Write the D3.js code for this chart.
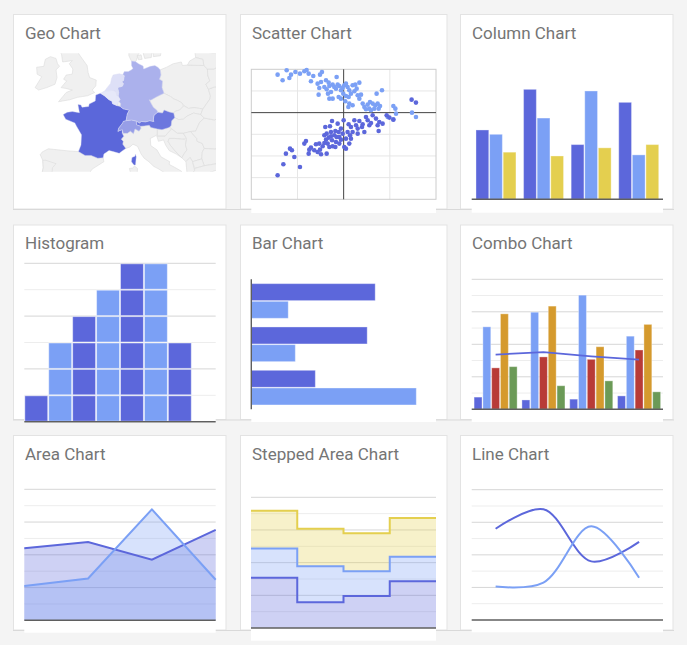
<!DOCTYPE html>
<html>
<head>
<meta charset="utf-8">
<script src="https://cdn.jsdelivr.net/npm/d3@7"></script>
<style>
  body { margin: 0; background: #f4f4f4; }
  svg { display: block; font-family: Roboto, "Noto Sans", sans-serif; }
</style>
</head>
<body>
<svg id="gallery" width="687" height="645"></svg>
<script>
// ---------- data ----------
const cardTitles = ["Geo Chart", "Scatter Chart", "Column Chart",
                    "Histogram", "Bar Chart", "Combo Chart",
                    "Area Chart", "Stepped Area Chart", "Line Chart"];

// geo chart: region values (0-100) and outlines as [lon, lat]
const regionNames = ["France", "Austria", "Switzerland", "Germany", "Netherlands", "Belgium"];
const regionValues = [100, 88, 58, 44, 8, 2];

const franceOutline = [[2.5,51.1],[3.3,50.8],[4.2,50.3],[4.8,50.1],[4.9,49.8],[5.8,49.55],[6.4,49.45],[7.0,49.15],[8.2,48.97],[7.8,48.5],[7.55,47.6],[7.0,47.5],[6.9,47.3],[6.1,46.6],[5.95,46.15],[6.15,46.25],[6.8,46.4],[6.8,45.9],[7.1,45.5],[6.6,45.1],[7.0,44.8],[6.9,44.4],[7.5,43.8],[7.0,43.55],[6.2,43.1],[5.0,43.35],[4.2,43.5],[3.2,43.0],[3.05,42.45],[2.0,42.4],[0.7,42.8],[-0.5,42.8],[-1.8,43.35],[-1.3,44.3],[-1.2,45.7],[-2.2,46.9],[-2.5,47.3],[-4.3,47.8],[-4.8,48.4],[-4.0,48.7],[-3.0,48.8],[-1.6,48.65],[-1.9,49.7],[-1.3,49.65],[-1.1,49.35],[0.2,49.45],[0.3,49.75],[1.5,50.15],[1.6,50.9]];
const corsicaOutline = [[9.4,43.0],[9.55,42.6],[9.4,41.4],[9.1,41.4],[8.6,41.9],[8.7,42.5],[9.3,42.7]];
const germanyOutline = [[6.9,53.35],[7.2,53.7],[8.0,53.7],[8.6,53.9],[8.9,54.05],[8.6,54.4],[8.6,54.9],[9.4,54.85],[10.0,54.6],[10.9,54.35],[11.0,54.0],[12.3,54.3],[13.2,54.4],[13.8,54.2],[14.25,53.9],[14.4,53.3],[14.1,52.8],[14.7,52.6],[14.6,51.8],[15.0,51.1],[14.3,50.9],[13.5,50.65],[12.4,50.25],[12.1,50.3],[12.5,49.8],[12.9,49.35],[13.6,48.95],[13.8,48.7],[13.4,48.55],[13.0,48.25],[12.9,47.7],[13.0,47.5],[12.2,47.6],[11.4,47.45],[10.5,47.5],[10.2,47.3],[9.55,47.55],[8.6,47.7],[7.55,47.6],[7.8,48.5],[8.2,48.97],[7.0,49.15],[6.4,49.45],[6.5,49.8],[6.1,50.15],[6.4,50.3],[6.0,50.75],[6.1,51.2],[5.9,51.8],[6.8,51.95],[7.05,52.25],[6.7,52.5],[7.05,52.65],[7.2,53.2]];
const austriaOutline = [[9.55,47.55],[10.2,47.3],[10.5,47.5],[11.4,47.45],[12.2,47.6],[13.0,47.5],[12.9,47.7],[13.0,48.25],[13.4,48.55],[13.8,48.7],[14.7,48.6],[15.0,49.0],[16.0,48.75],[16.9,48.6],[17.1,48.0],[16.5,47.6],[16.4,46.95],[16.0,46.7],[14.6,46.4],[13.7,46.5],[12.4,46.7],[12.1,47.0],[11.1,46.9],[10.4,46.85],[9.6,47.05]];
const switzerlandOutline = [[5.95,46.15],[6.1,46.6],[6.9,47.3],[7.0,47.5],[7.55,47.6],[8.6,47.7],[9.55,47.55],[9.6,47.05],[10.4,46.85],[10.45,46.55],[10.1,46.2],[9.3,46.5],[9.0,45.85],[8.4,46.2],[7.8,45.9],[7.0,45.9],[6.8,46.4],[6.15,46.25]];
const netherlandsOutline = [[3.4,51.4],[4.2,51.4],[5.0,51.45],[5.6,51.2],[5.7,50.8],[6.0,50.75],[6.1,51.2],[5.9,51.8],[6.8,51.95],[7.05,52.25],[6.7,52.5],[7.05,52.65],[7.2,53.2],[6.9,53.35],[6.2,53.45],[5.0,53.3],[4.7,52.9],[4.5,52.3],[4.1,52.0],[3.6,51.6]];
const belgiumOutline = [[2.55,51.1],[3.4,51.4],[4.2,51.4],[5.0,51.45],[5.6,51.2],[5.7,50.8],[6.0,50.75],[6.4,50.3],[6.1,50.15],[5.8,49.55],[4.9,49.8],[4.8,50.1],[4.2,50.3],[3.3,50.8]];

const landOutlines = [
  [[-3.0,58.6],[-1.8,57.6],[-2.5,56.5],[-1.6,55.6],[-0.1,54.4],[0.1,53.6],[0.4,53.0],[1.7,52.7],[1.6,52.0],[0.9,51.5],[1.4,51.2],[0.0,50.8],[-1.0,50.7],[-2.0,50.6],[-3.5,50.3],[-5.7,50.05],[-4.2,51.2],[-3.0,51.5],[-4.3,51.7],[-5.2,51.8],[-4.1,52.6],[-4.7,52.8],[-4.2,53.3],[-3.0,53.4],[-2.9,54.0],[-3.6,54.6],[-3.0,54.95],[-4.9,54.8],[-5.1,55.6],[-5.6,56.3],[-6.0,57.5],[-5.0,58.6]],
  [[-6.2,53.9],[-5.5,54.3],[-5.9,54.6],[-6.2,55.2],[-7.3,55.4],[-8.3,55.1],[-8.6,54.3],[-10.0,54.2],[-9.9,53.4],[-9.0,53.1],[-9.9,52.2],[-10.3,51.8],[-9.6,51.5],[-8.0,51.8],[-6.4,52.2],[-6.0,53.0]],
  [[-1.8,43.35],[-3.8,43.45],[-5.8,43.6],[-7.7,43.75],[-8.9,43.3],[-9.3,42.9],[-8.8,42.1],[-8.7,41.0],[-9.0,40.0],[-9.5,38.8],[-6.0,37.0],[-2.0,36.7],[0.0,38.7],[-0.3,39.5],[0.9,40.8],[3.2,41.9],[3.05,42.45],[2.0,42.4],[0.7,42.8],[-0.5,42.8]],
  [[-8.8,42.1],[-8.2,42.1],[-6.2,41.6],[-6.9,41.0],[-7.0,39.7],[-7.5,39.6],[-7.0,38.0],[-7.4,37.2],[-8.9,37.0],[-8.8,38.7],[-9.5,38.8],[-9.0,40.0],[-8.7,41.0]],
  [[6.8,45.9],[7.1,45.5],[6.6,45.1],[7.0,44.8],[6.9,44.4],[7.5,43.8],[8.3,44.0],[8.9,44.4],[9.8,44.1],[10.5,43.0],[11.1,42.4],[12.0,41.9],[13.0,41.2],[14.0,40.8],[15.6,40.0],[15.8,39.2],[16.1,38.0],[16.6,38.8],[17.1,39.4],[16.5,40.2],[18.5,40.2],[18.4,40.5],[17.0,41.1],[16.0,41.5],[16.1,41.9],[14.4,42.6],[13.6,43.6],[12.4,44.2],[12.3,45.2],[13.7,45.7],[13.7,46.5],[12.4,46.7],[12.1,47.0],[11.1,46.9],[10.4,46.85],[10.45,46.55],[10.1,46.2],[9.3,46.5],[9.0,45.85],[8.4,46.2],[7.8,45.9]],
  [[9.2,41.25],[9.8,40.9],[9.7,40.0],[9.6,39.2],[9.0,39.1],[8.4,39.0],[8.4,40.3],[8.2,40.9],[8.8,40.95]],
  [[8.6,54.9],[8.1,55.5],[8.1,56.6],[8.6,57.1],[10.6,57.7],[10.3,56.5],[10.9,56.4],[9.9,55.6],[9.6,55.0],[9.4,54.85]],
  [[12.6,56.0],[12.5,55.3],[11.2,55.2],[10.9,55.8],[11.8,56.0]],
  [[9.7,55.5],[10.5,55.6],[10.7,55.1],[10.0,55.05]],
  [[12.9,55.4],[14.3,55.5],[14.5,56.2],[12.5,56.3],[12.9,55.6]],
  [[5.8,49.55],[6.4,49.45],[6.5,49.8],[6.1,50.15],[5.8,50.0]],
  [[14.25,53.9],[15.5,54.2],[16.8,54.6],[18.4,54.8],[18.6,54.4],[19.6,54.45],[22.8,54.4],[23.5,54.0],[23.6,53.2],[24.0,52.6],[23.2,52.2],[23.7,51.6],[24.1,50.8],[24.0,50.4],[22.6,49.1],[22.0,49.2],[20.9,49.3],[19.8,49.2],[19.0,49.5],[18.5,49.9],[17.7,50.2],[16.9,50.4],[16.3,50.7],[15.0,51.1],[14.6,51.8],[14.7,52.6],[14.1,52.8],[14.4,53.3]],
  [[12.1,50.3],[12.4,50.25],[13.5,50.65],[14.3,50.9],[15.0,51.1],[16.3,50.7],[16.9,50.4],[17.7,50.2],[18.5,49.9],[18.8,49.5],[18.1,49.0],[17.1,48.8],[16.9,48.6],[16.0,48.75],[15.0,49.0],[14.7,48.6],[13.8,48.7],[13.6,48.95],[12.9,49.35],[12.5,49.8]],
  [[16.9,48.6],[17.1,48.8],[18.1,49.0],[18.8,49.5],[19.0,49.5],[19.8,49.2],[20.9,49.3],[22.0,49.2],[22.6,49.1],[22.2,48.4],[20.8,48.6],[19.5,48.2],[18.8,47.8],[17.8,47.75],[17.1,48.0]],
  [[16.4,46.95],[16.5,47.6],[17.1,48.0],[17.8,47.75],[18.8,47.8],[19.5,48.2],[20.8,48.6],[22.2,48.4],[22.9,47.95],[22.0,47.4],[21.2,46.2],[20.2,46.15],[18.8,45.9],[17.6,45.9],[16.5,46.5],[16.1,46.85]],
  [[13.7,45.7],[13.6,45.5],[15.2,45.5],[15.7,45.9],[16.5,46.5],[16.0,46.7],[14.6,46.4],[13.7,46.5]],
  [[13.6,45.5],[13.9,44.8],[14.9,45.0],[15.3,44.3],[16.0,43.5],[17.4,43.0],[18.5,42.45],[17.6,43.1],[16.3,44.2],[15.8,44.8],[16.0,45.2],[17.0,45.2],[18.5,45.1],[19.4,45.2],[18.8,45.9],[17.6,45.9],[16.5,46.5],[15.7,45.9],[15.2,45.5]],
  [[15.8,44.8],[16.3,44.2],[17.6,43.1],[18.5,42.45],[18.9,43.0],[19.5,43.6],[19.2,44.3],[19.4,45.0],[18.5,45.1],[17.0,45.2],[16.0,45.2]],
  [[18.8,45.9],[19.4,45.2],[19.4,45.0],[19.2,44.3],[19.5,43.6],[18.9,43.0],[18.5,42.45],[19.3,41.9],[20.1,42.5],[20.6,41.9],[22.4,42.3],[22.5,43.3],[22.9,43.8],[22.5,44.5],[21.5,44.8],[21.4,45.2],[20.2,46.15]],
  [[20.2,46.15],[21.2,46.2],[22.0,47.4],[22.9,47.95],[24.9,47.7],[26.6,48.2],[28.2,46.5],[28.2,45.5],[29.6,45.2],[28.6,43.75],[27.0,44.1],[25.0,43.7],[22.9,43.8],[22.5,44.5],[21.5,44.8],[21.4,45.2]],
  [[22.6,49.1],[24.0,50.4],[24.1,50.8],[23.7,51.6],[25.0,51.9],[27.0,51.6],[30.0,51.5],[30.0,46.0],[28.2,46.5],[26.6,48.2],[24.9,47.7],[22.9,47.95],[22.2,48.4]],
  [[23.2,52.2],[24.0,52.6],[23.6,53.2],[23.5,54.0],[24.8,54.0],[25.8,54.3],[26.7,55.6],[28.0,56.0],[30.0,56.0],[30.0,51.5],[27.0,51.6],[25.0,51.9],[23.7,51.6]],
  [[21.2,55.3],[22.6,55.1],[22.8,54.4],[23.5,54.0],[24.8,54.0],[25.8,54.3],[26.7,55.6],[21.0,56.1]],
  [[19.6,54.45],[22.8,54.4],[22.6,55.1],[21.2,55.3],[20.0,54.9]],
  [[22.4,42.3],[22.5,43.3],[22.9,43.8],[25.0,43.7],[27.0,44.1],[28.6,43.75],[28.0,42.0],[26.2,41.7],[22.9,41.3]],
  [[19.3,41.9],[19.5,40.2],[20.0,39.7],[21.0,40.6],[20.6,41.9],[20.1,42.5]],
  [[20.6,41.9],[21.0,40.9],[22.9,41.3],[22.4,42.3]],
  [[20.0,39.7],[21.0,40.6],[21.0,40.9],[22.9,41.3],[26.2,41.7],[26.0,40.8],[23.5,40.2],[22.5,40.0],[23.0,39.0],[20.5,39.0]]
];

const regionOutlines = {
  France: [franceOutline, corsicaOutline],
  Austria: [austriaOutline],
  Switzerland: [switzerlandOutline],
  Germany: [germanyOutline],
  Netherlands: [netherlandsOutline],
  Belgium: [belgiumOutline]
};

// scatter chart: [x, y]
const scatterLight = [[-7.15,8.77],[-6.61,7.46],[-6.17,9.77],[-5.88,8.0],[-5.70,8.77],[-5.23,9.38],[-4.73,9.0],[-4.26,9.54],[-4.01,9.85],[-3.79,9.0],[-3.54,7.23],[-3.29,8.46],[-2.56,8.77],[-2.35,9.38],[-2.82,6.69],[-2.45,7.08],[-1.91,7.46],[-1.62,6.92],[-2.09,5.92],[-2.64,5.69],[-1.84,5.38],[-1.55,6.15],[-1.37,4.77],[-1.19,6.46],[-1.01,5.92],[-0.83,5.54],[-0.76,8.23],[-0.65,6.46],[-0.47,6.15],[-0.29,5.15],[-0.54,3.62],[-1.19,3.23],[-1.55,3.23],[-1.70,4.38],[-2.71,4.15],[-0.11,5.69],[0.07,6.31],[0.25,6.69],[0.43,5.92],[0.61,5.15],[0.79,4.38],[0.97,6.31],[1.26,6.46],[1.70,6.92],[1.16,4.92],[1.52,4.0],[1.70,3.23],[1.41,5.54],[-0.04,4.38],[0.25,3.85],[0.54,3.62],[-0.29,3.23],[0.18,2.62],[0.61,2.08],[0.51,1.31],[0.97,1.69],[1.88,4.15],[2.06,2.08],[2.24,1.31],[2.60,1.85],[2.78,0.92],[3.14,2.08],[3.43,1.69],[3.68,2.08],[3.32,0.92],[2.96,0.54],[3.79,0.92],[4.15,5.15],[3.57,4.38],[5.38,1.54],[5.60,0.92],[5.67,-0.23],[4.77,-1.0],[5.38,-1.54],[7.40,0.0],[7.83,-1.0],[2.42,0.77],[3.94,1.54],[2.85,2.46]];
const scatterDark = [[-7.15,-14.46],[-6.53,-11.92],[-6.25,-9.46],[-5.81,-8.31],[-5.60,-8.69],[-5.34,-10.23],[-4.73,-12.54],[-4.26,-7.15],[-4.08,-6.54],[-3.79,-9.46],[-3.54,-8.08],[-3.0,-7.31],[-2.82,-9.08],[-2.64,-7.15],[-2.45,-9.62],[-2.27,-7.77],[-2.09,-5.23],[-1.91,-6.23],[-1.84,-9.46],[-1.73,-7.15],[-1.62,-5.77],[-1.48,-3.15],[-1.37,-4.46],[-1.26,-6.38],[-1.19,-7.77],[-1.01,-5.23],[-0.90,-4.23],[-0.76,-5.62],[-0.54,-4.46],[-0.47,-5.62],[-0.29,-3.69],[-0.11,-4.85],[0.07,-7.92],[0.25,-8.31],[0.25,-6.0],[0.43,-4.46],[0.54,-2.69],[0.69,-5.23],[0.79,-3.31],[0.97,-4.46],[1.16,-1.77],[1.34,-2.92],[1.52,-3.69],[1.70,-1.92],[1.99,-3.31],[2.42,-1.0],[2.60,-1.77],[2.78,-2.92],[2.96,-2.38],[3.14,-0.62],[3.50,-1.38],[3.68,-2.92],[3.79,-4.23],[3.86,-2.15],[4.22,-2.54],[4.66,-0.62],[4.95,-1.15],[5.38,-1.62],[1.52,-4.85],[0.61,-7.15],[-0.47,-7.15],[-0.90,-7.92],[-2.56,-8.54],[-3.72,-8.54],[-1.55,-7.92],[-3.18,-8.69],[-0.29,-6.23],[-0.83,-6.77],[-1.37,-5.46],[-1.84,-4.85],[-2.09,-7.0],[0.79,-6.0],[2.06,-2.69],[2.24,-4.46],[-0.65,-2.54],[0.0,-1.77],[-1.26,-1.92],[-1.99,-3.31],[7.36,3.0],[7.83,2.31]];

// column chart
const columnCategories = ["2014", "2015", "2016", "2017"];
const columnSales = [640, 1015, 505, 895];
const columnExpenses = [600, 750, 1000, 410];
const columnProfit = [435, 400, 475, 505];

// histogram: items per bin, and which series colours the bin
const histogramCounts = [1, 3, 4, 5, 6, 6, 3];
const histogramSeries = [0, 1, 0, 1, 0, 1, 0];

// bar chart
const barCategories = ["A", "B", "C"];
const barSeries1 = [805, 753, 416];
const barSeries2 = [240, 286, 1072];

// combo chart
const comboCategories = ["Q1", "Q2", "Q3", "Q4"];
const comboBolivia = [150, 115, 125, 165];
const comboEcuador = [1015, 1195, 1405, 900];
const comboMadagascar = [510, 645, 615, 730];
const comboPapua = [1175, 1270, 770, 1045];
const comboRwanda = [525, 290, 350, 215];
const comboAverage = [674, 703, 652, 611];

// area chart
const areaCategories = ["2013", "2014", "2015", "2016"];
const areaSales = [880, 955, 740, 1105];
const areaExpenses = [420, 510, 1355, 495];

// stepped area chart (stacked)
const stepCategories = ["A", "B", "C", "D"];
const stepSeries1 = [154, 79, 98, 143];
const stepSeries2 = [89, 110, 76, 75];
const stepSeries3 = [116, 115, 116, 119];

// line chart
const lineCategories = ["2004", "2005", "2006", "2007"];
const lineSales = [1120, 1360, 720, 960];
const lineExpenses = [410, 460, 1150, 520];

// ---------- drawing ----------
const dark = "#5c67db", light = "#7ba0f5", yellow = "#e4cf4f",
      red = "#b83b37", orange = "#d59a2d", green = "#6b9a57";
const baseColor = "#5f5f5f";

const svg = d3.select("#gallery");

const colX = [13.5, 240.5, 460.5];
const colW = [212.5, 206.5, 212.5];
const rowY = [14.5, 225, 435.5];
const cardH = 194.5;

// cards
cardTitles.forEach((t, i) => {
  const c = i % 3, r = Math.floor(i / 3);
  svg.append("rect")
    .attr("x", colX[c]).attr("y", rowY[r])
    .attr("width", colW[c]).attr("height", cardH)
    .attr("fill", "#fff").attr("stroke", "#e3e3e3");
});
rowY.forEach(y => {
  svg.append("line")
    .attr("x1", 13).attr("x2", 674)
    .attr("y1", y + cardH + 0.5).attr("y2", y + cardH + 0.5)
    .attr("stroke", "#d9d9d9");
});

function whiteBack(x0, x1, y0, y1) {
  svg.append("rect").attr("x", x0).attr("y", y0)
    .attr("width", x1 - x0).attr("height", y1 - y0).attr("fill", "#fff");
}

function gridlines(g, y, values, x0, x1, isMajor) {
  g.selectAll(null).data(values).enter().append("line")
    .attr("x1", x0).attr("x2", x1)
    .attr("y1", d => y(d)).attr("y2", d => y(d))
    .attr("stroke", d => isMajor(d) ? "#d6d6d6" : "#ededed")
    .attr("stroke-width", 1);
}

function baseline(g, y, x0, x1) {
  g.append("line").attr("x1", x0).attr("x2", x1)
    .attr("y1", y).attr("y2", y)
    .attr("stroke", baseColor).attr("stroke-width", 1.4);
}

// ---- Geo chart ----
(function () {
  const g = svg.append("g");
  g.append("clipPath").attr("id", "mapclip")
    .append("rect").attr("x", 33.3).attr("y", 53.3).attr("width", 182.7).attr("height", 118.4);
  const proj = d3.geoMercator().scale(292).center([0, 51.1]).translate([87.6, 93.3]);
  const ring = d3.line().x(d => proj(d)[0]).y(d => proj(d)[1]).curve(d3.curveLinearClosed);
  const color = d3.scaleLinear().domain([0, 100]).range(["#e9ebfa", "#5b67da"]);
  const m = g.append("g").attr("clip-path", "url(#mapclip)");
  m.selectAll("path.land").data(landOutlines).enter().append("path")
    .attr("d", ring).attr("fill", "#f0f0f0")
    .attr("stroke", "#dcdcdc").attr("stroke-width", 0.6);
  regionNames.forEach((name, i) => {
    m.selectAll(null).data(regionOutlines[name]).enter().append("path")
      .attr("d", ring).attr("fill", color(regionValues[i]))
      .attr("stroke", "#d8dcf3").attr("stroke-width", 0.4);
  });
})();

// ---- Scatter chart ----
(function () {
  whiteBack(251.3, 436, 199, 213);
  const g = svg.append("g");
  const x = d3.scaleLinear().domain([-10, 10]).range([251.3, 436]);
  const y = d3.scaleLinear().domain([-20, 10]).range([199.3, 69.3]);
  g.selectAll(null).data([-5, 5]).enter().append("line")
    .attr("x1", d => x(d)).attr("x2", d => x(d)).attr("y1", y(-20)).attr("y2", y(10))
    .attr("stroke", "#e6e6e6");
  g.selectAll(null).data([-15, -10, -5, 5]).enter().append("line")
    .attr("y1", d => y(d)).attr("y2", d => y(d)).attr("x1", x(-10)).attr("x2", x(10))
    .attr("stroke", "#e6e6e6");
  g.append("rect").attr("x", x(-10)).attr("y", y(10))
    .attr("width", x(10) - x(-10)).attr("height", y(-20) - y(10))
    .attr("fill", "none").attr("stroke", "#cccccc");
  g.append("line").attr("x1", x(0)).attr("x2", x(0)).attr("y1", y(-20)).attr("y2", y(10))
    .attr("stroke", "#444").attr("stroke-width", 1);
  g.append("line").attr("x1", x(-10)).attr("x2", x(10)).attr("y1", y(0)).attr("y2", y(0))
    .attr("stroke", "#444").attr("stroke-width", 1);
  g.selectAll("circle.l").data(scatterLight).enter().append("circle")
    .attr("cx", d => x(d[0])).attr("cy", d => y(d[1])).attr("r", 2.3).attr("fill", light);
  g.selectAll("circle.d").data(scatterDark).enter().append("circle")
    .attr("cx", d => x(d[0])).attr("cy", d => y(d[1])).attr("r", 2.3).attr("fill", dark);
})();

// ---- Column chart ----
(function () {
  whiteBack(471.7, 663, 199, 212.7);
  const g = svg.append("g");
  const x0 = d3.scaleBand().domain(columnCategories).range([471.7, 663]).paddingInner(0.16).paddingOuter(0.09);
  const x1 = d3.scaleBand().domain([0, 1, 2]).range([0, x0.bandwidth()]).paddingInner(0.06);
  const y = d3.scaleLinear().domain([0, 1200]).range([199.3, 69.3]);
  const series = [columnSales, columnExpenses, columnProfit];
  const colors = [dark, light, yellow];
  series.forEach((vals, s) => {
    g.selectAll(null).data(vals).enter().append("rect")
      .attr("x", (d, i) => x0(columnCategories[i]) + x1(s))
      .attr("y", d => y(d)).attr("width", x1.bandwidth())
      .attr("height", d => y(0) - y(d))
      .attr("fill", colors[s]).attr("stroke", "#fff").attr("stroke-opacity", 0.35);
  });
  baseline(g, y(0), 471.7, 663);
})();

// ---- Histogram ----
(function () {
  whiteBack(24.3, 215.7, 419, 423);
  const g = svg.append("g");
  const x = d3.scaleLinear().domain([0, 8]).range([24.3, 215.7]);
  const y = d3.scaleLinear().domain([0, 6]).range([421.7, 263.3]);
  gridlines(g, y, [1, 2, 3, 4, 5, 6], 24.3, 215.7, d => d % 2 === 0);
  const blocks = [];
  histogramCounts.forEach((n, i) => {
    for (let k = 0; k < n; k++) blocks.push({ bin: i, k: k, s: histogramSeries[i] });
  });
  g.selectAll(null).data(blocks).enter().append("rect")
    .attr("x", d => x(d.bin) + 0.5).attr("y", d => y(d.k + 1) + 0.5)
    .attr("width", x(1) - x(0) - 1).attr("height", y(0) - y(1) - 1)
    .attr("fill", d => d.s === 0 ? dark : light)
    .attr("stroke", "#fff").attr("stroke-opacity", 0.45);
  baseline(g, y(0), 24.3, 215.7);
})();

// ---- Bar chart ----
(function () {
  whiteBack(251.3, 436, 418, 422);
  const g = svg.append("g");
  const x = d3.scaleLinear().domain([0, 1200]).range([251.3, 436]);
  const y0 = d3.scaleBand().domain(barCategories).range([279.3, 409.3]).paddingInner(0.2).paddingOuter(0.1);
  const y1 = d3.scaleBand().domain([0, 1]).range([0, y0.bandwidth()]).paddingInner(0.04);
  [barSeries1, barSeries2].forEach((vals, s) => {
    g.selectAll(null).data(vals).enter().append("rect")
      .attr("x", x(0)).attr("y", (d, i) => y0(barCategories[i]) + y1(s))
      .attr("width", d => x(d) - x(0)).attr("height", y1.bandwidth())
      .attr("fill", s === 0 ? dark : light).attr("stroke", "#fff").attr("stroke-opacity", 0.35);
  });
  g.append("line").attr("x1", x(0)).attr("x2", x(0)).attr("y1", 279.3).attr("y2", 409.3)
    .attr("stroke", baseColor).attr("stroke-width", 1.4);
})();

// ---- Combo chart ----
(function () {
  whiteBack(471.7, 663, 418, 422);
  const g = svg.append("g");
  const x0 = d3.scaleBand().domain(comboCategories).range([471.7, 663]).paddingInner(0.1).paddingOuter(0.05);
  const x1 = d3.scaleBand().domain([0, 1, 2, 3, 4]).range([0, x0.bandwidth()]).paddingInner(0.1);
  const y = d3.scaleLinear().domain([0, 1600]).range([409.3, 279.3]);
  gridlines(g, y, d3.range(200, 1601, 200), 471.7, 663, d => d % 400 === 0);
  const series = [comboBolivia, comboEcuador, comboMadagascar, comboPapua, comboRwanda];
  const colors = [dark, light, red, orange, green];
  series.forEach((vals, s) => {
    g.selectAll(null).data(vals).enter().append("rect")
      .attr("x", (d, i) => x0(comboCategories[i]) + x1(s))
      .attr("y", d => y(d)).attr("width", x1.bandwidth())
      .attr("height", d => y(0) - y(d))
      .attr("fill", colors[s]).attr("stroke", "#fff").attr("stroke-opacity", 0.35);
  });
  const line = d3.line()
    .x((d, i) => x0(comboCategories[i]) + x0.bandwidth() / 2)
    .y(d => y(d));
  g.append("path").attr("d", line(comboAverage))
    .attr("fill", "none").attr("stroke", dark).attr("stroke-width", 1.8);
  baseline(g, y(0), 471.7, 663);
})();

// ---- Area chart ----
(function () {
  whiteBack(24.3, 215.7, 629, 632.7);
  const g = svg.append("g");
  const x = d3.scalePoint().domain(areaCategories).range([24.3, 215.7]);
  const y = d3.scaleLinear().domain([0, 1600]).range([620.3, 489.3]);
  gridlines(g, y, d3.range(200, 1601, 200), 24.3, 215.7, d => d % 400 === 0);
  const area = d3.area().x((d, i) => x(areaCategories[i])).y0(y(0)).y1(d => y(d));
  const line = d3.line().x((d, i) => x(areaCategories[i])).y(d => y(d));
  g.append("path").attr("d", area(areaSales)).attr("fill", dark).attr("fill-opacity", 0.3);
  g.append("path").attr("d", area(areaExpenses)).attr("fill", light).attr("fill-opacity", 0.3);
  g.append("path").attr("d", line(areaSales)).attr("fill", "none").attr("stroke", dark).attr("stroke-width", 2);
  g.append("path").attr("d", line(areaExpenses)).attr("fill", "none").attr("stroke", light).attr("stroke-width", 2);
  baseline(g, y(0), 24.3, 215.7);
})();

// ---- Stepped area chart ----
(function () {
  whiteBack(251, 436, 629, 640.7);
  const g = svg.append("g");
  const n = stepCategories.length;
  const x = d3.scaleLinear().domain([0, n]).range([251, 436]);
  const y = d3.scaleLinear().domain([0, 400]).range([628, 497.3]);
  gridlines(g, y, d3.range(50, 401, 50), 251, 436, d => d % 100 === 0);
  const rows = stepCategories.map((c, i) => ({ a: stepSeries1[i], b: stepSeries2[i], c: stepSeries3[i] }));
  const layers = d3.stack().keys(["a", "b", "c"])(rows);
  const colors = [dark, light, yellow];
  const area = d3.area().curve(d3.curveStepAfter)
    .x((d, i) => x(i)).y0(d => y(d[0])).y1(d => y(d[1]));
  const top = d3.line().curve(d3.curveStepAfter)
    .x((d, i) => x(i)).y(d => y(d[1]));
  layers.forEach((layer, s) => {
    const pts = layer.concat([layer[n - 1]]);
    g.append("path").attr("d", area(pts)).attr("fill", colors[s]).attr("fill-opacity", 0.3);
  });
  layers.forEach((layer, s) => {
    const pts = layer.concat([layer[n - 1]]);
    g.append("path").attr("d", top(pts)).attr("fill", "none")
      .attr("stroke", colors[s]).attr("stroke-width", 2);
  });
  baseline(g, y(0), 251, 436);
})();

// ---- Line chart ----
(function () {
  whiteBack(471.7, 663, 629, 632.3);
  const g = svg.append("g");
  const x = d3.scalePoint().domain(lineCategories).range([471.7, 663]).padding(0.5);
  const y = d3.scaleLinear().domain([0, 1600]).range([620, 489.7]);
  gridlines(g, y, d3.range(200, 1601, 200), 471.7, 663, d => d % 400 === 0);
  const line = d3.line().curve(d3.curveCatmullRom.alpha(0.5))
    .x((d, i) => x(lineCategories[i])).y(d => y(d));
  g.append("path").attr("d", line(lineSales)).attr("fill", "none").attr("stroke", dark).attr("stroke-width", 2);
  g.append("path").attr("d", line(lineExpenses)).attr("fill", "none").attr("stroke", light).attr("stroke-width", 2);
  baseline(g, y(0), 471.7, 663);
})();

// titles
cardTitles.forEach((t, i) => {
  const c = i % 3, r = Math.floor(i / 3);
  svg.append("text")
    .attr("x", colX[c] + 11.5).attr("y", rowY[r] + 24.2)
    .attr("font-size", 17).attr("fill", "#757575")
    .text(t);
});
</script>
</body>
</html>
